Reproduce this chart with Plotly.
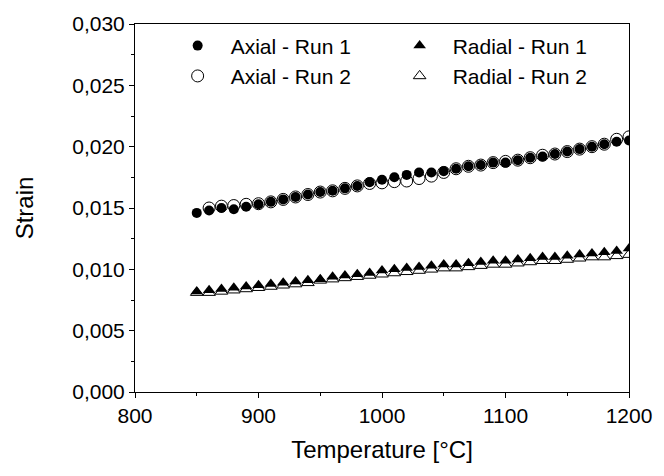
import plotly.graph_objects as go

temps = [850, 860, 870, 880, 890, 900, 910, 920, 930, 940, 950, 960, 970, 980, 990,
         1000, 1010, 1020, 1030, 1040, 1050, 1060, 1070, 1080, 1090, 1100, 1110, 1120,
         1130, 1140, 1150, 1160, 1170, 1180, 1190, 1200]

axial_run1 = [0.0146, 0.0148, 0.0150, 0.0149, 0.0151, 0.0153, 0.0155, 0.0157, 0.0159,
              0.0161, 0.0163, 0.0164, 0.0166, 0.0168, 0.0171, 0.0173, 0.0175, 0.0177,
              0.0179, 0.0179, 0.0180, 0.0182, 0.0184, 0.0185, 0.0187, 0.0187, 0.0189,
              0.0191, 0.0192, 0.0194, 0.0196, 0.0198, 0.0200, 0.0202, 0.0204, 0.0205]

temps_run2 = temps[1:]
axial_run2 = [0.0150, 0.01515, 0.0152, 0.0153, 0.01535, 0.0155, 0.0157, 0.0159, 0.0161,
              0.0163, 0.0164, 0.0166, 0.0168, 0.0170, 0.01705, 0.01715, 0.0172, 0.0174,
              0.0176, 0.0179, 0.0182, 0.0184, 0.0185, 0.0187, 0.0188, 0.0189, 0.0191,
              0.0193, 0.0194, 0.0196, 0.0198, 0.0200, 0.0202, 0.0206, 0.0208]

radial_run1 = [0.0082, 0.0083, 0.0084, 0.0085, 0.0086, 0.0087, 0.0088, 0.0089, 0.0090,
               0.0091, 0.0092, 0.0094, 0.0095, 0.0096, 0.0097, 0.0099, 0.0100, 0.0101,
               0.0102, 0.0103, 0.0104, 0.0104, 0.0105, 0.0106, 0.0107, 0.0107, 0.0108,
               0.0109, 0.0110, 0.0110, 0.0111, 0.0112, 0.0113, 0.0114, 0.0115, 0.0117]

radial_run2 = [0.0081, 0.0081, 0.0082, 0.0083, 0.0084, 0.0085, 0.0086, 0.0087, 0.0088,
               0.0089, 0.0091, 0.0092, 0.0093, 0.0094, 0.0095, 0.0096, 0.0097, 0.0098,
               0.0099, 0.0100, 0.0101, 0.0101, 0.0102, 0.0103, 0.0104, 0.0104, 0.0105,
               0.0106, 0.0107, 0.0107, 0.0108, 0.0109, 0.0110, 0.0110, 0.0111, 0.0112]

FONT = "Liberation Sans, Arial, sans-serif"

fig = go.Figure()
# open markers drawn first so filled markers sit on top
fig.add_trace(go.Scatter(x=temps_run2, y=axial_run2, mode="markers", name="Axial - Run 2",
                         legendrank=3,
                         marker=dict(symbol="circle", size=12, color="white",
                                     line=dict(color="black", width=1))))
fig.add_trace(go.Scatter(x=temps, y=radial_run2, mode="markers", name="Radial - Run 2",
                         legendrank=4,
                         marker=dict(symbol="triangle-up", size=11, color="white",
                                     line=dict(color="black", width=1))))
fig.add_trace(go.Scatter(x=temps, y=axial_run1, mode="markers", name="Axial - Run 1",
                         legendrank=1,
                         marker=dict(symbol="circle", size=10, color="black",
                                     line=dict(color="black", width=0))))
fig.add_trace(go.Scatter(x=temps, y=radial_run1, mode="markers", name="Radial - Run 1",
                         legendrank=2,
                         marker=dict(symbol="triangle-up", size=11, color="black",
                                     line=dict(color="black", width=0))))

fig.update_layout(
    width=664, height=476,
    margin=dict(l=135, r=28, t=23, b=84),
    paper_bgcolor="white", plot_bgcolor="white",
    separators=",.",
    font=dict(family=FONT, size=20, color="black"),
    showlegend=True,
    legend=dict(orientation="h", x=0.06, y=0.996, xanchor="left", yanchor="top",
                entrywidth=151, entrywidthmode="pixels", itemwidth=56,
                bgcolor="rgba(0,0,0,0)", font=dict(family=FONT, size=21),
                itemsizing="trace"),
    xaxis=dict(range=[800, 1200], dtick=100, tick0=800, showgrid=False, zeroline=False,
               showline=True, linecolor="black", linewidth=1, mirror=True,
               ticks="outside", ticklen=5, tickcolor="black",
               minor=dict(ticks="outside", ticklen=3, dtick=50, tickcolor="black"),
               title=dict(text="Temperature [°C]", font=dict(size=24), standoff=14),
               tickfont=dict(size=21)),
    yaxis=dict(range=[0, 0.030], dtick=0.005, tick0=0, tickformat=".3f", showgrid=False,
               zeroline=False, showline=True, linecolor="black", linewidth=1, mirror=True,
               ticks="outside", ticklen=5, tickcolor="black",
               minor=dict(ticks="outside", ticklen=3, dtick=0.0025, tickcolor="black"),
               title=dict(text="Strain", font=dict(size=24), standoff=31),
               tickfont=dict(size=21)),
)

fig.write_html("out.html")
